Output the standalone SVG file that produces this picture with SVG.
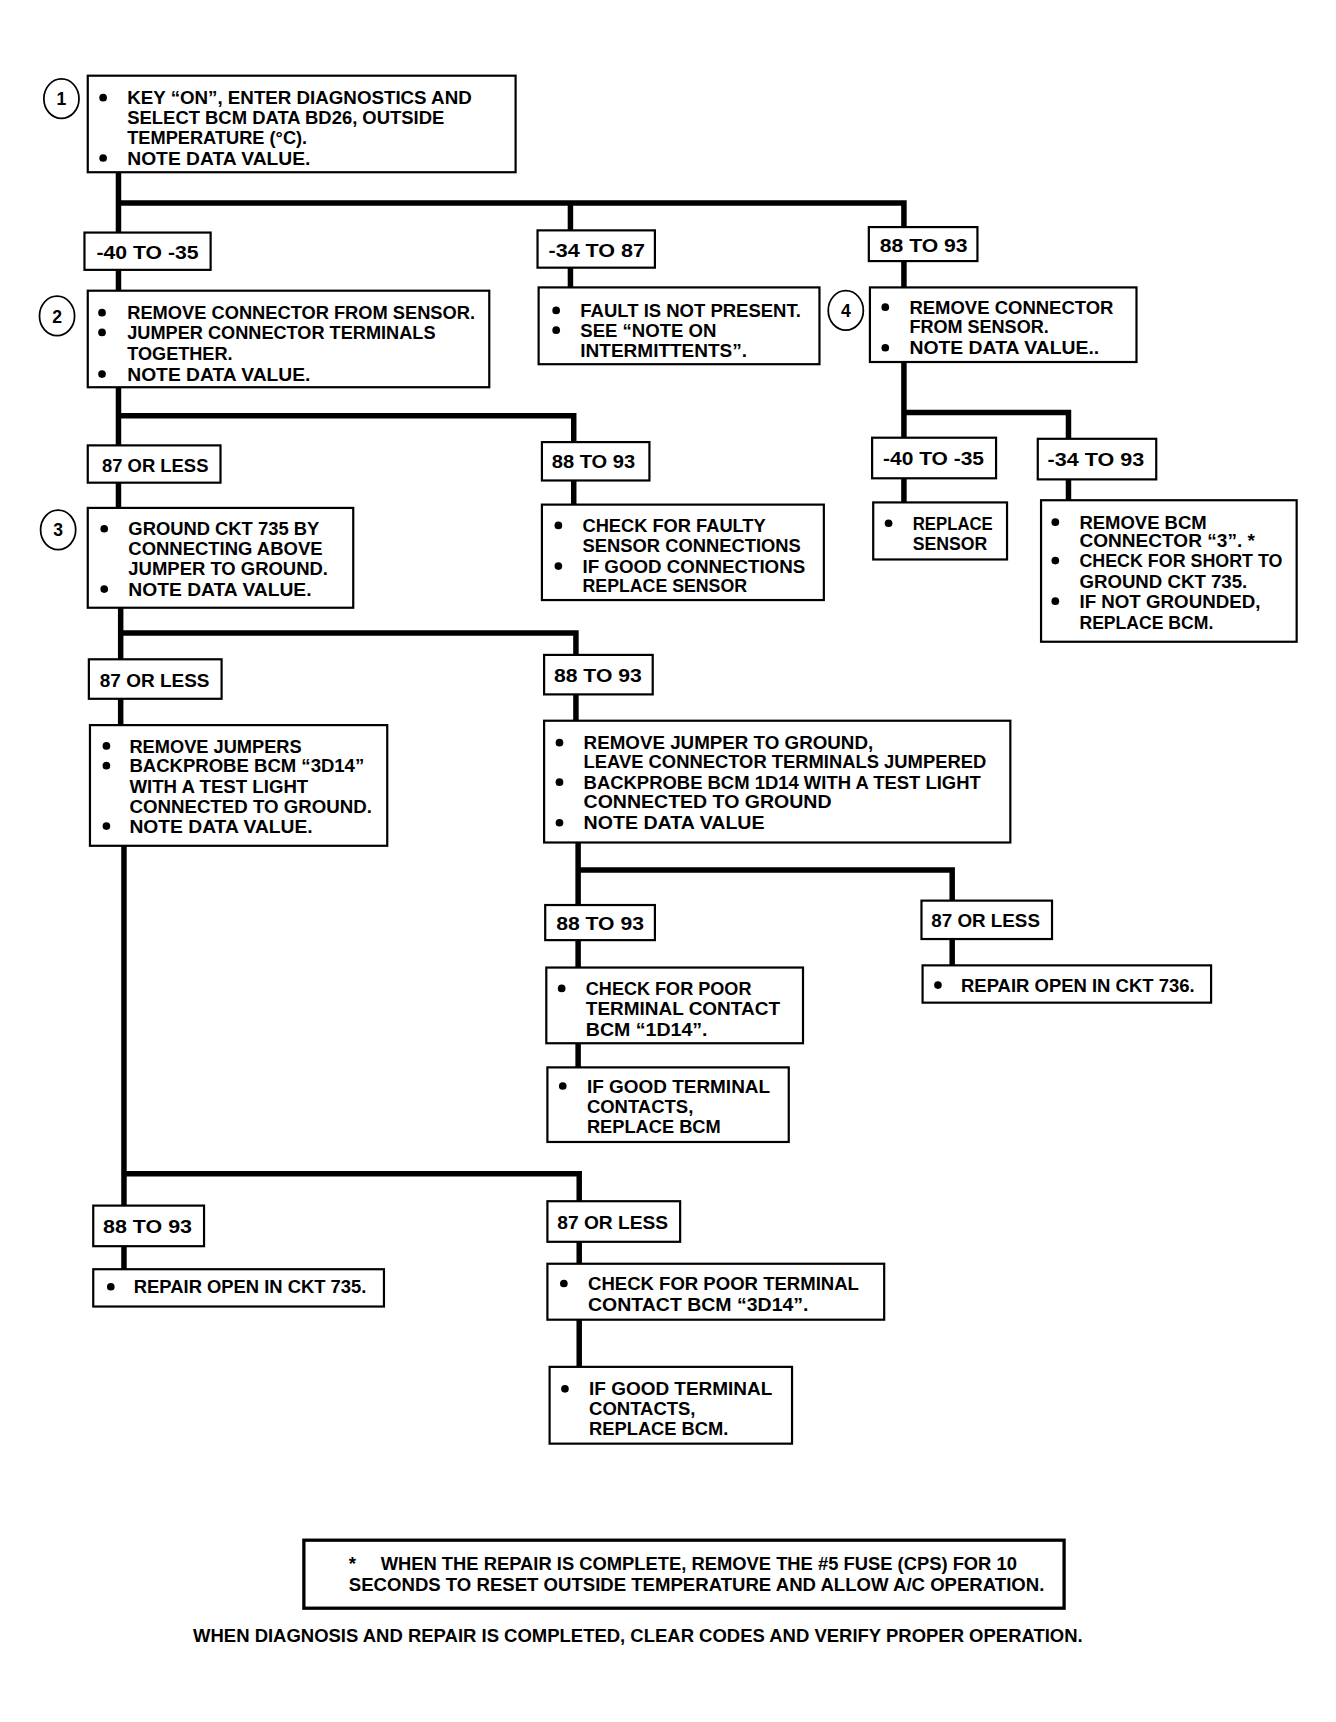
<svg xmlns="http://www.w3.org/2000/svg" width="1336" height="1722" viewBox="0 0 1336 1722">
<style>
.bg{fill:#fff}
.box{fill:#fff;stroke:#000;stroke-width:2}
.fbox{fill:#fff;stroke:#000;stroke-width:3}
.conn{fill:none;stroke:#000;stroke-width:5;stroke-linecap:square}
.num{fill:#fff;stroke:#000;stroke-width:1.6}
.t{font-family:"Liberation Sans",Arial,sans-serif;font-weight:bold;font-size:17px;fill:#000}
.n{font-family:"Liberation Sans",Arial,sans-serif;font-weight:bold;font-size:16px;fill:#000;text-anchor:middle}
.b{fill:#000}
</style>
<rect class="bg" x="0" y="0" width="1336" height="1722"/>
<g transform="scale(1.097)">
<g id="connectors">
<path class="conn" d="M108,157 V212 M108,185 H520 V210 M520,185 H824 V207"/>
<path class="conn" d="M108,246 V265 M520,244 V262 M824,238 V262"/>
<path class="conn" d="M824,330 V399 M824,376 H974 V400 M824,436 V458 M974,437 V456"/>
<path class="conn" d="M108,353 V406 M108,379 H523 V403 M108,440 V463 M523,438 V460"/>
<path class="conn" d="M110,554 V601 M110,577 H525 V597 M110,637 V661 M525,633 V657"/>
<path class="conn" d="M527,768 V825 M527,793 H868 V821 M527,857 V882 M527,951 V973 M868,856 V880"/>
<path class="conn" d="M113,771 V1099 M113,1070 H528 V1095 M113,1136 V1157 M528,1132 V1152 M528,1203 V1246"/>
</g>

<g id="step1">
<ellipse class="num" cx="56" cy="90" rx="16" ry="18"/>
<text class="n" x="56" y="96">1</text>
<rect class="box" x="80" y="69" width="390" height="88"/>
<circle class="b" cx="94" cy="89" r="3.5"/><circle class="b" cx="94" cy="144" r="3.5"/>
<text class="t" x="116" y="95" textLength="314" lengthAdjust="spacingAndGlyphs">KEY “ON”, ENTER DIAGNOSTICS AND</text>
<text class="t" x="116" y="113" textLength="289" lengthAdjust="spacingAndGlyphs">SELECT BCM DATA BD26, OUTSIDE</text>
<text class="t" x="116" y="131" textLength="164" lengthAdjust="spacingAndGlyphs">TEMPERATURE (°C).</text>
<text class="t" x="116" y="150" textLength="167" lengthAdjust="spacingAndGlyphs">NOTE DATA VALUE.</text>
</g>

<g id="r1a"><rect class="box" x="77" y="212" width="115" height="34"/>
<text class="t" x="88" y="236" textLength="93" lengthAdjust="spacingAndGlyphs">-40  TO  -35</text></g>
<g id="r1b"><rect class="box" x="490" y="210" width="107" height="34"/>
<text class="t" x="500" y="234" textLength="88" lengthAdjust="spacingAndGlyphs">-34  TO  87</text></g>
<g id="r1c"><rect class="box" x="792" y="207" width="99" height="31"/>
<text class="t" x="802" y="230" textLength="80" lengthAdjust="spacingAndGlyphs">88  TO  93</text></g>

<g id="step2">
<ellipse class="num" cx="52" cy="288" rx="16" ry="18"/>
<text class="n" x="52" y="294">2</text>
<rect class="box" x="80" y="265" width="366" height="88"/>
<circle class="b" cx="93" cy="285" r="3.5"/><circle class="b" cx="93" cy="303" r="3.5"/><circle class="b" cx="93" cy="341" r="3.5"/>
<text class="t" x="116" y="291" textLength="317" lengthAdjust="spacingAndGlyphs">REMOVE CONNECTOR FROM SENSOR.</text>
<text class="t" x="116" y="309" textLength="281" lengthAdjust="spacingAndGlyphs">JUMPER CONNECTOR TERMINALS</text>
<text class="t" x="116" y="328" textLength="96" lengthAdjust="spacingAndGlyphs">TOGETHER.</text>
<text class="t" x="116" y="347" textLength="167" lengthAdjust="spacingAndGlyphs">NOTE DATA VALUE.</text>
</g>

<g id="fault">
<rect class="box" x="491" y="262" width="256" height="70"/>
<circle class="b" cx="507" cy="283" r="3.5"/><circle class="b" cx="507" cy="301" r="3.5"/>
<text class="t" x="529" y="289" textLength="201" lengthAdjust="spacingAndGlyphs">FAULT IS NOT PRESENT.</text>
<text class="t" x="529" y="307" textLength="124" lengthAdjust="spacingAndGlyphs">SEE “NOTE ON</text>
<text class="t" x="529" y="325" textLength="152" lengthAdjust="spacingAndGlyphs">INTERMITTENTS”.</text>
</g>

<g id="step4">
<ellipse class="num" cx="771" cy="283" rx="16" ry="18"/>
<text class="n" x="771" y="289">4</text>
<rect class="box" x="793" y="262" width="243" height="68"/>
<circle class="b" cx="807" cy="280" r="3.5"/><circle class="b" cx="807" cy="317" r="3.5"/>
<text class="t" x="829" y="286" textLength="186" lengthAdjust="spacingAndGlyphs">REMOVE CONNECTOR</text>
<text class="t" x="829" y="304" textLength="127" lengthAdjust="spacingAndGlyphs">FROM SENSOR.</text>
<text class="t" x="829" y="323" textLength="173" lengthAdjust="spacingAndGlyphs">NOTE DATA VALUE..</text>
</g>

<g id="r4a"><rect class="box" x="795" y="399" width="113" height="37"/>
<text class="t" x="805" y="424" textLength="92" lengthAdjust="spacingAndGlyphs">-40  TO  -35</text></g>
<g id="r4b"><rect class="box" x="946" y="400" width="108" height="37"/>
<text class="t" x="955" y="425" textLength="88" lengthAdjust="spacingAndGlyphs">-34  TO  93</text></g>

<g id="replace-sensor">
<rect class="box" x="796" y="458" width="122" height="52"/>
<circle class="b" cx="810" cy="477" r="3.5"/>
<text class="t" x="832" y="483" textLength="73" lengthAdjust="spacingAndGlyphs">REPLACE</text>
<text class="t" x="832" y="501" textLength="68" lengthAdjust="spacingAndGlyphs">SENSOR</text>
</g>

<g id="remove-bcm">
<rect class="box" x="949" y="456" width="233" height="129"/>
<circle class="b" cx="962" cy="476" r="3.5"/><circle class="b" cx="962" cy="511" r="3.5"/><circle class="b" cx="962" cy="548" r="3.5"/>
<text class="t" x="984" y="482" textLength="116" lengthAdjust="spacingAndGlyphs">REMOVE BCM</text>
<text class="t" x="984" y="499" textLength="160" lengthAdjust="spacingAndGlyphs">CONNECTOR “3”. *</text>
<text class="t" x="984" y="517" textLength="185" lengthAdjust="spacingAndGlyphs">CHECK FOR SHORT TO</text>
<text class="t" x="984" y="536" textLength="153" lengthAdjust="spacingAndGlyphs">GROUND CKT 735.</text>
<text class="t" x="984" y="554" textLength="165" lengthAdjust="spacingAndGlyphs">IF NOT GROUNDED,</text>
<text class="t" x="984" y="573" textLength="122" lengthAdjust="spacingAndGlyphs">REPLACE BCM.</text>
</g>

<g id="r2a"><rect class="box" x="80" y="406" width="121" height="34"/>
<text class="t" x="93" y="430" textLength="97" lengthAdjust="spacingAndGlyphs">87 OR  LESS</text></g>
<g id="r2b"><rect class="box" x="494" y="403" width="98" height="35"/>
<text class="t" x="503" y="427" textLength="76" lengthAdjust="spacingAndGlyphs">88 TO  93</text></g>

<g id="check-faulty">
<rect class="box" x="494" y="460" width="257" height="87"/>
<circle class="b" cx="509" cy="479" r="3.5"/><circle class="b" cx="509" cy="516" r="3.5"/>
<text class="t" x="531" y="485" textLength="167" lengthAdjust="spacingAndGlyphs">CHECK FOR FAULTY</text>
<text class="t" x="531" y="503" textLength="199" lengthAdjust="spacingAndGlyphs">SENSOR CONNECTIONS</text>
<text class="t" x="531" y="522" textLength="203" lengthAdjust="spacingAndGlyphs">IF GOOD CONNECTIONS</text>
<text class="t" x="531" y="540" textLength="150" lengthAdjust="spacingAndGlyphs">REPLACE SENSOR</text>
</g>

<g id="step3">
<ellipse class="num" cx="53" cy="483" rx="16" ry="18"/>
<text class="n" x="53" y="489">3</text>
<rect class="box" x="80" y="463" width="242" height="91"/>
<circle class="b" cx="95" cy="482" r="3.5"/><circle class="b" cx="95" cy="537" r="3.5"/>
<text class="t" x="117" y="488" textLength="174" lengthAdjust="spacingAndGlyphs">GROUND CKT 735 BY</text>
<text class="t" x="117" y="506" textLength="177" lengthAdjust="spacingAndGlyphs">CONNECTING ABOVE</text>
<text class="t" x="117" y="524" textLength="182" lengthAdjust="spacingAndGlyphs">JUMPER TO GROUND.</text>
<text class="t" x="117" y="543" textLength="167" lengthAdjust="spacingAndGlyphs">NOTE DATA VALUE.</text>
</g>

<g id="r3a"><rect class="box" x="81" y="601" width="121" height="36"/>
<text class="t" x="91" y="626" textLength="100" lengthAdjust="spacingAndGlyphs">87  OR LESS</text></g>
<g id="r3b"><rect class="box" x="496" y="597" width="99" height="36"/>
<text class="t" x="505" y="622" textLength="80" lengthAdjust="spacingAndGlyphs">88  TO  93</text></g>

<g id="remove-jumpers">
<rect class="box" x="82" y="661" width="271" height="110"/>
<circle class="b" cx="97" cy="680" r="3.5"/><circle class="b" cx="97" cy="698" r="3.5"/><circle class="b" cx="97" cy="753" r="3.5"/>
<text class="t" x="118" y="686" textLength="157" lengthAdjust="spacingAndGlyphs">REMOVE JUMPERS</text>
<text class="t" x="118" y="704" textLength="214" lengthAdjust="spacingAndGlyphs">BACKPROBE BCM “3D14”</text>
<text class="t" x="118" y="723" textLength="163" lengthAdjust="spacingAndGlyphs">WITH A TEST LIGHT</text>
<text class="t" x="118" y="741" textLength="221" lengthAdjust="spacingAndGlyphs">CONNECTED TO GROUND.</text>
<text class="t" x="118" y="759" textLength="167" lengthAdjust="spacingAndGlyphs">NOTE DATA VALUE.</text>
</g>

<g id="remove-jumper-ground">
<rect class="box" x="496" y="657" width="425" height="111"/>
<circle class="b" cx="510" cy="677" r="3.5"/><circle class="b" cx="510" cy="713" r="3.5"/><circle class="b" cx="510" cy="750" r="3.5"/>
<text class="t" x="532" y="683" textLength="264" lengthAdjust="spacingAndGlyphs">REMOVE JUMPER TO GROUND,</text>
<text class="t" x="532" y="700" textLength="367" lengthAdjust="spacingAndGlyphs">LEAVE CONNECTOR TERMINALS JUMPERED</text>
<text class="t" x="532" y="719" textLength="362" lengthAdjust="spacingAndGlyphs">BACKPROBE BCM 1D14 WITH A TEST LIGHT</text>
<text class="t" x="532" y="737" textLength="226" lengthAdjust="spacingAndGlyphs">CONNECTED TO GROUND</text>
<text class="t" x="532" y="756" textLength="165" lengthAdjust="spacingAndGlyphs">NOTE DATA VALUE</text>
</g>

<g id="r5a"><rect class="box" x="497" y="825" width="100" height="32"/>
<text class="t" x="507" y="848" textLength="80" lengthAdjust="spacingAndGlyphs">88  TO  93</text></g>
<g id="r5b"><rect class="box" x="840" y="821" width="119" height="35"/>
<text class="t" x="849" y="845" textLength="99" lengthAdjust="spacingAndGlyphs">87  OR  LESS</text></g>

<g id="check-1d14">
<rect class="box" x="498" y="882" width="234" height="69"/>
<circle class="b" cx="512" cy="901" r="3.5"/>
<text class="t" x="534" y="907" textLength="151" lengthAdjust="spacingAndGlyphs">CHECK FOR POOR</text>
<text class="t" x="534" y="925" textLength="177" lengthAdjust="spacingAndGlyphs">TERMINAL CONTACT</text>
<text class="t" x="534" y="944" textLength="111" lengthAdjust="spacingAndGlyphs">BCM “1D14”.</text>
</g>

<g id="good-1d14">
<rect class="box" x="499" y="973" width="220" height="68"/>
<circle class="b" cx="513" cy="990" r="3.5"/>
<text class="t" x="535" y="996" textLength="167" lengthAdjust="spacingAndGlyphs">IF GOOD TERMINAL</text>
<text class="t" x="535" y="1015" textLength="97" lengthAdjust="spacingAndGlyphs">CONTACTS,</text>
<text class="t" x="535" y="1033" textLength="122" lengthAdjust="spacingAndGlyphs">REPLACE  BCM</text>
</g>

<g id="repair-736">
<rect class="box" x="841" y="880" width="263" height="34"/>
<circle class="b" cx="855" cy="898" r="3.5"/>
<text class="t" x="876" y="904" textLength="213" lengthAdjust="spacingAndGlyphs">REPAIR OPEN IN  CKT 736.</text>
</g>

<g id="r6a"><rect class="box" x="85" y="1099" width="101" height="37"/>
<text class="t" x="94" y="1124" textLength="81" lengthAdjust="spacingAndGlyphs">88  TO  93</text></g>
<g id="r6b"><rect class="box" x="499" y="1095" width="121" height="37"/>
<text class="t" x="508" y="1120" textLength="101" lengthAdjust="spacingAndGlyphs">87  OR  LESS</text></g>

<g id="repair-735">
<rect class="box" x="85" y="1157" width="265" height="34"/>
<circle class="b" cx="101" cy="1173" r="3.5"/>
<text class="t" x="122" y="1179" textLength="212" lengthAdjust="spacingAndGlyphs">REPAIR OPEN  IN CKT 735.</text>
</g>

<g id="check-3d14">
<rect class="box" x="499" y="1152" width="307" height="51"/>
<circle class="b" cx="514" cy="1170" r="3.5"/>
<text class="t" x="536" y="1176" textLength="247" lengthAdjust="spacingAndGlyphs">CHECK FOR POOR  TERMINAL</text>
<text class="t" x="536" y="1195" textLength="201" lengthAdjust="spacingAndGlyphs">CONTACT BCM “3D14”.</text>
</g>

<g id="good-3d14">
<rect class="box" x="501" y="1246" width="221" height="70"/>
<circle class="b" cx="515" cy="1266" r="3.5"/>
<text class="t" x="537" y="1272" textLength="167" lengthAdjust="spacingAndGlyphs">IF GOOD TERMINAL</text>
<text class="t" x="537" y="1290" textLength="97" lengthAdjust="spacingAndGlyphs">CONTACTS,</text>
<text class="t" x="537" y="1308" textLength="127" lengthAdjust="spacingAndGlyphs">REPLACE  BCM.</text>
</g>

<g id="footnote">
<rect class="fbox" x="277" y="1404" width="693" height="62"/>
<text class="t" x="318" y="1431">*</text>
<text class="t" x="347" y="1431" textLength="580" lengthAdjust="spacingAndGlyphs">WHEN THE REPAIR IS COMPLETE, REMOVE THE #5 FUSE (CPS) FOR 10</text>
<text class="t" x="318" y="1450" textLength="634" lengthAdjust="spacingAndGlyphs">SECONDS TO RESET OUTSIDE TEMPERATURE AND ALLOW A/C OPERATION.</text>
</g>

<g id="final-note">
<text class="t" x="176" y="1497" textLength="811" lengthAdjust="spacingAndGlyphs">WHEN DIAGNOSIS AND REPAIR IS COMPLETED,  CLEAR CODES AND VERIFY PROPER OPERATION.</text>
</g>
</g>
</svg>
